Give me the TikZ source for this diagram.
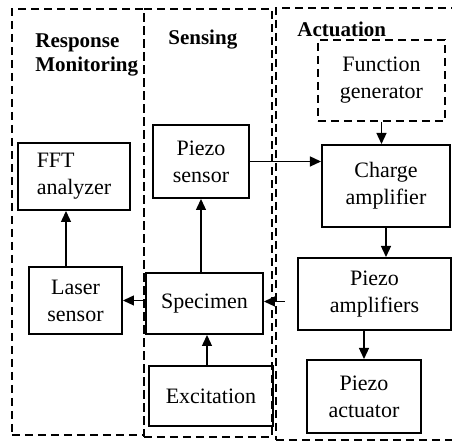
\documentclass[tikz,border=0pt]{standalone}
\usepackage{fontspec}
\setmainfont{Liberation Serif}
\usepackage{tikz}
\usetikzlibrary{arrows.meta,positioning,calc}

\begin{document}
\begin{tikzpicture}[
    x=0.5pt, y=-0.5pt,
    font=\fontsize{11}{13.5}\selectfont,
    block/.style={rectangle, draw, line width=1pt, align=center, inner sep=2pt},
    group/.style={rectangle, draw, line width=0.8pt, dash pattern=on 4pt off 2.5pt},
    title/.style={anchor=north west, inner sep=0pt, align=left, font=\fontsize{10.5}{12}\selectfont\bfseries},
    flow/.style={->, line width=0.65pt},
    >={Triangle[length=5.5pt, width=5pt]}
]
    \clip (0,0) rectangle (452,442);

    % Groups (dashed frames)
    \node[group, minimum width=66pt, minimum height=213pt] (monitor) at (78,222) {};
    \node[group, minimum width=64pt, minimum height=214pt] (sensing) at (208,223) {};
    \node[group, minimum width=97pt, minimum height=216pt] (actuation) at (373,224) {};

    \node[title] (tmonitor) at (35,33) {Response\\Monitoring};
    \node[title] (tsensing) at (168,30) {Sensing};
    \node[title] (tactuation) at (297,22) {Actuation};

    % Response monitoring
    \node[block, align=left, minimum width=56pt, minimum height=33.5pt] (fft) at (74,176.5) {FFT\\analyzer};
    \node[block, minimum width=46.5pt, minimum height=33.5pt] (laser) at (75.5,300.5) {Laser\\sensor};

    % Sensing
    \node[block, minimum width=48pt, minimum height=36.5pt] (psensor) at (201,161.5) {Piezo\\sensor};
    \node[block, minimum width=58.5pt, minimum height=30.5pt] (specimen) at (204.5,303.5) {Specimen};
    \node[block, minimum width=62pt, minimum height=30pt] (excite) at (211,396) {Excitation};

    % Actuation
    \node[block, dash pattern=on 4pt off 2.5pt, minimum width=63.5pt, minimum height=40.5pt] (fgen) at (381.5,80.5) {Function\\generator};
    \node[block, minimum width=64pt, minimum height=41pt] (charge) at (386,186) {Charge\\amplifier};
    \node[block, minimum width=76.5pt, minimum height=36pt] (pamp) at (374.5,294) {Piezo\\amplifiers};
    \node[block, minimum width=57pt, minimum height=36.5pt] (pact) at (364,396.5) {Piezo\\actuator};

    % Signal paths
    \draw[flow] ([xshift=-4.75pt]laser.north) -- ([xshift=-4.75pt]laser.north |- fft.south);
    \draw[flow] (specimen.north -| psensor) -- (psensor.south);
    \draw[flow] (psensor.east) -- (psensor.east -| charge.west);
    \draw[flow] (fgen.south) -- (fgen.south |- charge.north);
    \draw[flow] (charge.south) -- (charge.south |- pamp.north);
    \draw[flow] (pact.north |- pamp.south) -- (pact.north);
    \draw[flow, shorten <=6pt] ([yshift=1pt]specimen.east -| pamp.west) -- ([yshift=1pt]specimen.east);
    \draw[flow] (laser.east -| specimen.west) -- (laser.east);
    \draw[flow] ([xshift=1.25pt]excite.north -| specimen) -- ([xshift=1.25pt]specimen.south);

\end{tikzpicture}
\end{document}
